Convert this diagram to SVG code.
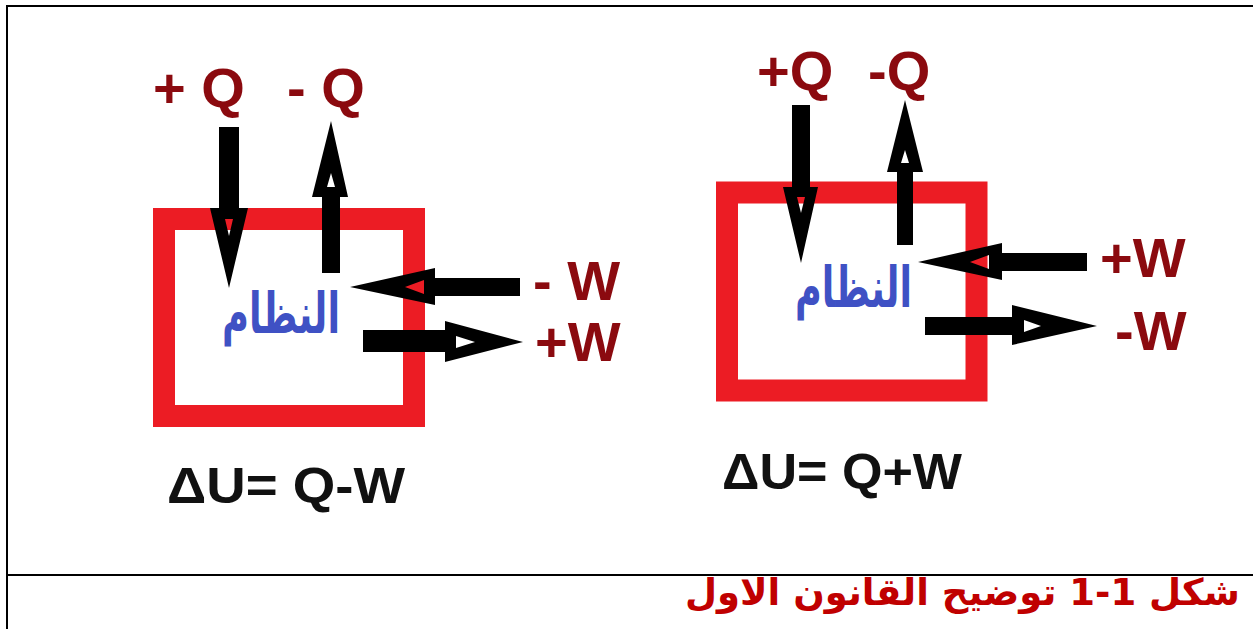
<svg xmlns="http://www.w3.org/2000/svg" width="1253" height="629" viewBox="0 0 1253 629">
<style>
.frame{stroke:#000;stroke-width:2;fill:none}
.box{fill:none;stroke:#ec1c24;stroke-width:22}
.arr{fill:#000;fill-rule:evenodd}
.lbl{font-family:"Liberation Sans",Arial,sans-serif;font-weight:bold;font-size:56px;fill:#8b0a0f}
.sys{font-family:"DejaVu Sans",sans-serif;font-weight:bold;font-size:56px;fill:#3f51c4}
.eq{font-family:"Liberation Sans",Arial,sans-serif;font-weight:bold;font-size:50px;fill:#111}
.cap{font-family:"DejaVu Sans",sans-serif;font-weight:bold;font-size:37px;fill:#c00000}
</style>
<rect width="1253" height="629" fill="#fff"/>
<g id="frame">
<line class="frame" x1="6" y1="6" x2="1253" y2="6"/>
<line class="frame" x1="7" y1="5" x2="7" y2="629"/>
<line class="frame" x1="6" y1="575" x2="1253" y2="575"/>
</g>
<g id="system-left">
<rect class="box" x="164" y="219" width="250" height="197"/>
<text class="sys" x="340" y="333" direction="rtl" textLength="118" lengthAdjust="spacingAndGlyphs">النظام</text>
</g>
<g id="system-right">
<rect class="box" x="727" y="192.5" width="249.5" height="198"/>
<text class="sys" x="912" y="307" direction="rtl" textLength="117" lengthAdjust="spacingAndGlyphs">النظام</text>
</g>
<g id="connectors">
<rect x="219" y="127" width="20" height="82"/>
<path class="arr" d="M210,208 L248,208 L229,288 Z M225,219 L233,219 L229,236 Z"/>
<rect x="322" y="196" width="18" height="77"/>
<path class="arr" d="M312,197 L348,197 L331,121 Z M327,187 L335,187 L331,173 Z"/>
<rect x="434" y="278" width="86" height="18"/>
<path class="arr" d="M435,268 L435,305 L350,287 Z M424,280 L424,294 L405,287 Z"/>
<rect x="363" y="330" width="83" height="22"/>
<path class="arr" d="M445,321 L445,362 L523,342 Z M456,336 L456,348 L475,342 Z"/>
<rect x="792" y="105" width="18" height="83"/>
<path class="arr" d="M783,187 L818,187 L801,263 Z M797,197 L805,197 L801,213 Z"/>
<rect x="897" y="171" width="16" height="74"/>
<path class="arr" d="M887,172 L923,172 L905,100 Z M901,163 L909,163 L905,150 Z"/>
<rect x="1001" y="253" width="86" height="18"/>
<path class="arr" d="M1002,243 L1002,280 L918,262 Z M989,255 L989,269 L970,262 Z"/>
<rect x="925" y="317" width="88" height="18"/>
<path class="arr" d="M1012,305 L1012,345 L1097,326 Z M1024,320 L1024,332 L1041,326 Z"/>
</g>
<g id="labels">
<text class="lbl" x="153" y="107">+ Q</text>
<text class="lbl" x="287" y="107">- Q</text>
<text class="lbl" x="533" y="300">- W</text>
<text class="lbl" x="535" y="361">+W</text>
<text class="lbl" x="757" y="90">+Q</text>
<text class="lbl" x="868" y="90">-Q</text>
<text class="lbl" x="1100" y="277">+W</text>
<text class="lbl" x="1115" y="350">-W</text>
</g>
<g id="equations">
<text class="eq" x="167" y="503" textLength="238" lengthAdjust="spacingAndGlyphs">ΔU= Q-W</text>
<text class="eq" x="722" y="489" textLength="240" lengthAdjust="spacingAndGlyphs">ΔU= Q+W</text>
</g>
<g id="caption">
<text class="cap" x="1240" y="605" text-anchor="end">شكل 1-1 توضيح القانون الاول</text>
</g>
</svg>
